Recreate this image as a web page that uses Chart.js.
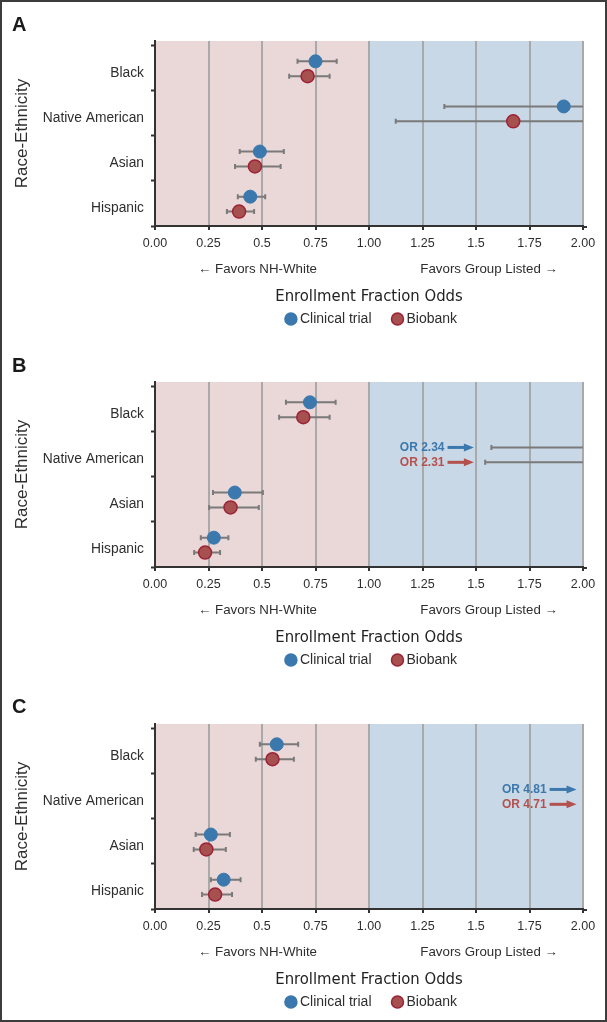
<!DOCTYPE html>
<html>
<head>
<meta charset="utf-8">
<script src="https://cdn.jsdelivr.net/npm/chart.js@4"></script>
<style>
html, body { margin: 0; padding: 0; background: #fff; }
#page { position: relative; width: 607px; height: 1022px; overflow: hidden; }
#page canvas { position: absolute; left: 0; }
#frame { position: absolute; left: 0; top: 0; width: 607px; height: 1022px; box-sizing: border-box;
  border: 2px solid #3c3c3c; pointer-events: none; }
</style>
</head>
<body>
<div id="page">
  <canvas id="chartA" width="607" height="330" style="top:0px"></canvas>
  <canvas id="chartB" width="607" height="340" style="top:330px"></canvas>
  <canvas id="chartC" width="607" height="352" style="top:670px"></canvas>
  <div id="frame"></div>
</div>
<script>
// categories, top to bottom
const categories = ['Black', 'Native American', 'Asian', 'Hispanic'];
const xTickValues = [0, 0.25, 0.5, 0.75, 1, 1.25, 1.5, 1.75, 2];
const xTickLabels = ['0.00', '0.25', '0.5', '0.75', '1.00', '1.25', '1.5', '1.75', '2.00'];
const seriesNames = ['Clinical trial', 'Biobank'];
const panelLetters = ['A', 'B', 'C'];
const favorLabels = ['\u2190 Favors NH-White', 'Favors Group Listed \u2192'];
const xTitle = 'Enrollment Fraction Odds';
const yTitle = 'Race-Ethnicity';

// panel A
const trialOrA = [0.75, 1.91, 0.49, 0.445];
const trialLoA = [0.666, 1.352, 0.396, 0.387];
const trialHiA = [0.849, 2.60, 0.602, 0.515];
const bioOrA = [0.713, 1.674, 0.467, 0.393];
const bioLoA = [0.627, 1.125, 0.374, 0.336];
const bioHiA = [0.816, 2.45, 0.587, 0.463];

// panel B
const trialOrB = [0.724, 2.34, 0.373, 0.275];
const trialLoB = [0.612, 1.572, 0.271, 0.214];
const trialHiB = [0.844, 3.50, 0.504, 0.343];
const bioOrB = [0.693, 2.31, 0.353, 0.234];
const bioLoB = [0.580, 1.543, 0.253, 0.183];
const bioHiB = [0.816, 3.45, 0.485, 0.304];

// panel C
const trialOrC = [0.569, 4.81, 0.261, 0.321];
const trialLoC = [0.490, 2.90, 0.190, 0.261];
const trialHiC = [0.669, 7.90, 0.350, 0.400];
const bioOrC = [0.549, 4.71, 0.240, 0.281];
const bioLoC = [0.471, 2.85, 0.181, 0.220];
const bioHiC = [0.649, 7.80, 0.331, 0.360];

const FONT = '"Liberation Sans", Arial, Helvetica, sans-serif';
const NARROW = '"Liberation Sans Narrow", "DejaVu Sans Condensed", "Liberation Sans", sans-serif';
const TEXT = '#2e2e2e';
const BLUE = '#3b78ad';
const RED = '#a65050';
const RED_TEXT = '#b4514f';

// 背景：左粉右蓝
const shadePlugin = {
  id: 'shade',
  beforeDraw(chart) {
    const ctx = chart.ctx, a = chart.chartArea, x = chart.scales.x;
    const x0 = x.getPixelForValue(0), x1 = x.getPixelForValue(1), x2 = x.getPixelForValue(2);
    ctx.save();
    ctx.fillStyle = '#ead7d7';
    ctx.fillRect(x0, a.top, x1 - x0, a.bottom - a.top);
    ctx.fillStyle = '#c9d8e6';
    ctx.fillRect(x1, a.top, x2 - x1, a.bottom - a.top);
    ctx.restore();
  },
  afterDraw(chart) {
    // x 轴线略超出 2.00
    const ctx = chart.ctx, a = chart.chartArea;
    ctx.save();
    ctx.strokeStyle = '#333';
    ctx.lineWidth = 2;
    ctx.beginPath();
    ctx.moveTo(a.right - 1, a.bottom + 1);
    ctx.lineTo(a.right + 4, a.bottom + 1);
    ctx.stroke();
    ctx.restore();
  }
};

// 误差线
const errorBarPlugin = {
  id: 'errorBars',
  beforeDatasetsDraw(chart) {
    const ctx = chart.ctx, a = chart.chartArea, xs = chart.scales.x, ys = chart.scales.y;
    ctx.save();
    ctx.beginPath();
    ctx.rect(a.left, a.top - 5, a.right - a.left, a.bottom - a.top + 10);
    ctx.clip();
    ctx.strokeStyle = '#7a7a7a';
    ctx.lineWidth = 2;
    chart.data.datasets.forEach(ds => {
      ds.data.forEach((p, i) => {
        const py = ys.getPixelForValue(p.y);
        const l = xs.getPixelForValue(ds.lo[i]);
        const r = xs.getPixelForValue(ds.hi[i]);
        if (l > a.right) return;
        const rr = Math.min(r, a.right);
        ctx.beginPath();
        ctx.moveTo(l, py); ctx.lineTo(rr, py);
        ctx.moveTo(l, py - 2.5); ctx.lineTo(l, py + 2.5);
        if (r <= a.right) { ctx.moveTo(r, py - 2.5); ctx.lineTo(r, py + 2.5); }
        ctx.stroke();
      });
    });
    ctx.restore();
  }
};

// 超出范围的 OR 标注
const offChartPlugin = {
  id: 'offChart',
  afterDatasetsDraw(chart, args, opts) {
    if (!opts.textEnd) return;
    const ctx = chart.ctx, xs = chart.scales.x, ys = chart.scales.y;
    const tx = xs.getPixelForValue(opts.textEnd);
    const ax = xs.getPixelForValue(opts.arrowEnd);
    ctx.save();
    ctx.font = 'bold 12px ' + FONT;
    ctx.textAlign = 'right';
    ctx.textBaseline = 'middle';
    chart.data.datasets.forEach(ds => {
      ds.data.forEach(p => {
        if (p.x <= xs.max) return;
        const py = ys.getPixelForValue(p.y);
        ctx.fillStyle = ds.textColor;
        ctx.fillText('OR ' + p.x.toFixed(2), tx, py + 0.5);
        ctx.strokeStyle = ds.textColor;
        ctx.lineWidth = 3;
        ctx.beginPath();
        ctx.moveTo(tx + 3, py); ctx.lineTo(ax - 8, py);
        ctx.stroke();
        ctx.beginPath();
        ctx.moveTo(ax, py); ctx.lineTo(ax - 10, py - 4); ctx.lineTo(ax - 10, py + 4);
        ctx.closePath();
        ctx.fill();
      });
    });
    ctx.restore();
  }
};

// 字母、Favors 文字和图例
const decorPlugin = {
  id: 'decor',
  afterDraw(chart, args, opts) {
    const ctx = chart.ctx, a = chart.chartArea, xs = chart.scales.x;
    ctx.save();
    ctx.fillStyle = '#1a1a1a';
    ctx.font = 'bold 20px ' + FONT;
    ctx.textAlign = 'left';
    ctx.textBaseline = 'alphabetic';
    ctx.fillText(opts.letter, 12, opts.letterY);

    ctx.fillStyle = TEXT;
    ctx.font = '13.3px ' + FONT;
    ctx.textAlign = 'center';
    ctx.textBaseline = 'middle';
    ctx.fillText(favorLabels[0], xs.getPixelForValue(0.479), a.bottom + 43);
    ctx.fillText(favorLabels[1], xs.getPixelForValue(1.561), a.bottom + 43);

    // legend
    ctx.font = '14px ' + FONT;
    const r = 6, gap = 3, spacing = 20;
    const items = chart.data.datasets.map(ds => ({
      label: ds.label, fill: ds.backgroundColor, stroke: ds.borderColor,
      w: 2 * r + gap + ctx.measureText(ds.label).width
    }));
    const total = items.reduce((s, it) => s + it.w, 0) + spacing * (items.length - 1);
    let x = (a.left + a.right) / 2 - total / 2 + 2;
    const y = a.bottom + 93;
    ctx.textAlign = 'left';
    items.forEach(it => {
      ctx.beginPath();
      ctx.arc(x + r, y, r, 0, Math.PI * 2);
      ctx.fillStyle = it.fill;
      ctx.fill();
      ctx.lineWidth = 1.5;
      ctx.strokeStyle = it.stroke;
      ctx.stroke();
      ctx.fillStyle = TEXT;
      ctx.fillText(it.label, x + 2 * r + gap, y + 0.5);
      x += it.w + spacing;
    });
    ctx.restore();
  }
};

function makePoints(values, offset) {
  return values.map((v, i) => ({ x: v, y: categories.length - 0.5 - i + offset }));
}

function makePanel(id, letter, letterY, padTop, padBottom, series, offChart) {
  const datasets = [
    {
      label: seriesNames[0],
      data: makePoints(series[0], 0.15),
      lo: series[1], hi: series[2],
      backgroundColor: BLUE, borderColor: BLUE, textColor: BLUE,
      pointRadius: 6.5, pointHoverRadius: 6.5, borderWidth: 1
    },
    {
      label: seriesNames[1],
      data: makePoints(series[3], -0.18),
      lo: series[4], hi: series[5],
      backgroundColor: RED, borderColor: '#9c2236', textColor: RED_TEXT,
      pointRadius: 6.5, pointHoverRadius: 6.5, borderWidth: 1.5
    }
  ];
  const labelPos = categories.map((c, i) => categories.length - 0.61 - i);

  return new Chart(document.getElementById(id), {
    type: 'scatter',
    data: { datasets: datasets },
    plugins: [shadePlugin, errorBarPlugin, offChartPlugin, decorPlugin],
    options: {
      responsive: false,
      animation: false,
      devicePixelRatio: 1,
      layout: { padding: { top: padTop, bottom: padBottom, left: 0, right: 24 } },
      plugins: {
        legend: { display: false },
        tooltip: { enabled: false },
        offChart: offChart || {},
        decor: { letter: letter, letterY: letterY }
      },
      scales: {
        x: {
          type: 'linear',
          min: 0, max: 2,
          afterBuildTicks: s => { s.ticks = xTickValues.map(v => ({ value: v })); },
          afterFit: s => { s.height = 82; },
          ticks: {
            autoSkip: false,
            maxRotation: 0,
            padding: 6,
            color: TEXT,
            font: { family: FONT, size: 12.5 },
            callback: (v, i) => xTickLabels[i]
          },
          grid: {
            color: '#a9a9a9', lineWidth: 2,
            tickColor: '#333', tickLength: 4, tickWidth: 2
          },
          border: { color: '#333', width: 2 },
          title: {
            display: true, text: xTitle, color: '#222',
            font: { family: NARROW, size: 16.5 },
            padding: { top: 0, bottom: 1 }
          }
        },
        y: {
          type: 'linear',
          min: 0, max: 4.1,
          afterBuildTicks: s => {
            const t = [];
            for (let k = 0; k <= categories.length; k++) t.push({ value: k });
            labelPos.forEach(v => t.push({ value: v }));
            t.sort((p, q) => p.value - q.value);
            s.ticks = t;
          },
          afterFit: s => { s.width = 155; },
          ticks: {
            autoSkip: false,
            padding: 7,
            color: TEXT,
            font: { family: FONT, size: 13.8 },
            callback: v => {
              const i = labelPos.findIndex(p => Math.abs(p - v) < 1e-6);
              return i >= 0 ? categories[i] : '';
            }
          },
          grid: {
            drawOnChartArea: false,
            tickLength: 4, tickWidth: 2,
            tickColor: c => Number.isInteger(c.tick.value) ? '#333' : 'rgba(0,0,0,0)'
          },
          border: { color: '#333', width: 2 },
          title: {
            display: true, text: yTitle, color: TEXT,
            font: { family: FONT, size: 17 },
            padding: { top: 12, bottom: 0 }
          }
        }
      }
    }
  });
}

makePanel('chartA', panelLetters[0], 31, 41, 22,
  [trialOrA, trialLoA, trialHiA, bioOrA, bioLoA, bioHiA]);
makePanel('chartB', panelLetters[1], 42, 52, 21,
  [trialOrB, trialLoB, trialHiB, bioOrB, bioLoB, bioHiB],
  { textEnd: 1.353, arrowEnd: 1.49 });
makePanel('chartC', panelLetters[2], 43, 54, 31,
  [trialOrC, trialLoC, trialHiC, bioOrC, bioLoC, bioHiC],
  { textEnd: 1.83, arrowEnd: 1.97 });
</script>
</body>
</html>
